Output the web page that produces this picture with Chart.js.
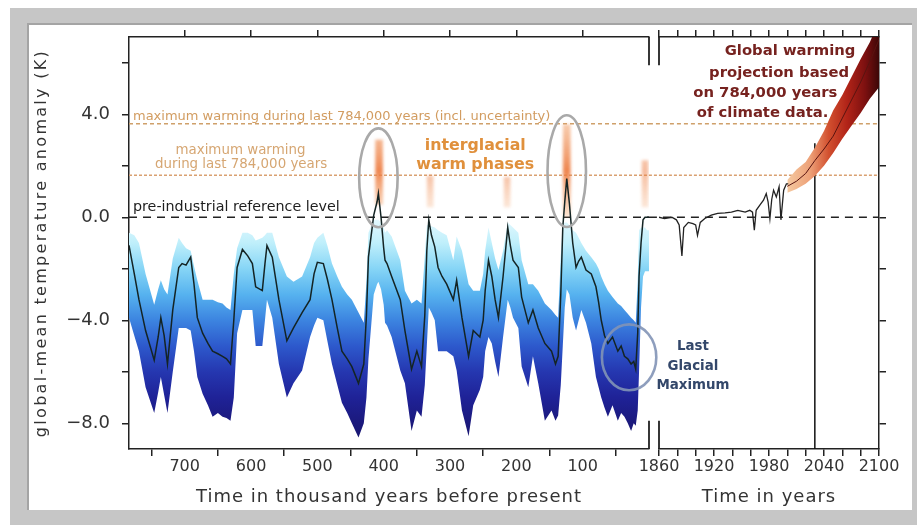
<!DOCTYPE html>
<html>
<head>
<meta charset="utf-8">
<script src="https://cdn.jsdelivr.net/npm/chart.js@4"></script>
<style>
  body { margin: 0; background: #fff; }
  #frame { position: absolute; left: 10px; top: 8px; width: 907px; height: 517px; background: #c6c6c6; }
  #panel { position: absolute; left: 27px; top: 23px; width: 885px; height: 487px; background: #fff; box-shadow: inset 2px 2px 0 #a4a4a4; }
  canvas { position: absolute; top: 23px; }
  #glacialCanvas { left: 27px; }
  #modernCanvas { left: 640px; }
</style>
</head>
<body>
<div id="frame"></div>
<div id="panel"></div>
<canvas id="glacialCanvas" width="640" height="487"></canvas>
<canvas id="modernCanvas" width="272" height="487"></canvas>
<script>
// reconstructed temperature, thousand years before present
const kyrBP = [
    784, 776, 769, 759, 746, 740, 736, 731, 726, 718, 709, 704, 698, 691,
    686, 681, 673, 665, 658, 650, 643, 637, 631, 626, 621, 613, 605, 598, 593,
    583, 579, 576, 568, 558, 546, 536, 523, 511, 505, 500, 491,
    485, 478, 470, 463, 455, 448, 438, 430, 426, 423, 415, 410, 408, 404, 400, 398, 395,
    388, 375, 368, 358, 350, 343, 338, 335, 332, 328, 323, 318, 312, 305, 295, 290,
    282, 272, 265, 255, 250, 247, 242, 237, 232, 227, 220, 213, 209, 205, 197,
    192, 182, 175, 167, 157, 147, 141, 137, 133, 130, 127, 124, 120, 115, 110, 106, 102,
    95, 87, 80, 76, 72, 67, 62, 55, 47, 42, 37, 32, 27, 23, 20, 17, 15, 12, 9, 6, 3, 0
];
const meanAnomaly = [
    -1.09, -2.2, -3.2, -4.4, -5.55, -4.65, -3.9, -4.6, -5.7, -3.6, -1.95, -1.8, -1.86, -1.55,
    -2.6, -3.9, -4.5, -4.9, -5.2, -5.3, -5.4, -5.5, -5.7, -4.0, -1.95, -1.25, -1.5, -1.8, -2.7,
    -2.85, -1.8, -1.1, -1.55, -3.2, -4.8, -4.3, -3.7, -3.2, -2.2, -1.75, -1.8,
    -2.4, -3.2, -4.3, -5.2, -5.5, -5.8, -6.45, -5.7, -3.8, -1.55, 0.08, 0.6, 0.93, 0.0, -1.2, -1.67, -1.8,
    -2.3, -3.2, -4.4, -5.9, -5.2, -5.8, -3.8, -1.3, -0.1, -0.7, -1.15, -1.95, -2.3, -2.6, -3.2, -2.45,
    -3.9, -5.4, -4.4, -4.65, -4.0, -2.85, -1.67, -2.3, -3.2, -3.9, -2.3, -0.4, -1.1, -1.67, -1.95,
    -3.1, -4.1, -3.6, -4.3, -4.9, -5.2, -5.7, -5.4, -3.0, -0.4, 0.6, 1.5, 0.54, -1.0, -1.95, -1.7, -1.55,
    -2.05, -2.2, -2.7, -3.3, -4.0, -4.6, -4.9, -4.65, -5.2, -5.0, -5.4, -5.5, -5.7, -5.6, -5.9, -4.5, -2.3, -1.0, -0.1, 0.0, 0.0, 0.0
];
const bandUpper = [
    -0.6, -0.7, -1.0, -2.2, -3.4, -2.8, -2.45, -2.8, -3.0, -1.6, -0.8, -1.0, -1.2, -1.3,
    -1.9, -2.45, -3.2, -3.2, -3.2, -3.3, -3.35, -3.5, -3.6, -2.2, -1.2, -0.6, -0.6, -0.7, -0.9,
    -0.8, -0.7, -0.6, -0.6, -1.55, -2.3, -2.5, -2.3, -1.55, -1.0, -0.8, -0.6,
    -1.1, -1.8, -2.3, -2.7, -3.0, -3.2, -3.7, -4.1, -2.5, -0.6, -0.1, -0.1, -0.1, -0.2, -0.4, -0.6, -0.5,
    -0.75, -1.67, -2.85, -3.35, -3.2, -3.35, -1.5, -0.3, -0.3, -0.35, -0.4, -0.5, -0.6, -0.7, -1.67, -0.75,
    -1.3, -2.6, -2.85, -2.85, -2.2, -1.3, -0.4, -1.0, -1.6, -2.05, -1.3, -0.2, -0.3, -0.4, -0.6,
    -1.67, -2.6, -2.6, -2.85, -3.35, -3.6, -3.8, -3.9, -1.5, -0.3, -0.2, -0.2, -0.3, -0.5, -0.6, -0.8, -1.0,
    -1.3, -1.55, -1.8, -2.0, -2.3, -2.6, -2.85, -3.1, -3.35, -3.45, -3.6, -3.75, -3.9, -4.0, -4.1, -2.5, -0.5, -0.4, -0.4, -0.4, -0.5, -0.5
];
const bandLower = [
    -3.9, -4.6, -5.2, -6.6, -7.6, -6.8, -6.2, -6.9, -7.6, -6.0, -4.3, -4.3, -4.3, -4.4,
    -5.2, -6.2, -6.85, -7.3, -7.75, -7.6, -7.75, -7.8, -7.9, -7.0, -4.5, -3.6, -3.6, -3.6, -5.0,
    -5.0, -4.0, -3.2, -3.9, -5.7, -7.0, -6.45, -5.95, -4.65, -4.2, -3.9, -4.0,
    -4.8, -5.7, -6.5, -7.2, -7.6, -8.0, -8.55, -8.0, -7.0, -5.5, -3.0, -2.6, -2.5, -2.8, -3.4, -4.1, -4.2,
    -4.65, -5.95, -6.45, -8.3, -7.5, -7.75, -6.5, -5.0, -3.5, -3.7, -4.0, -5.2, -5.2, -5.2, -5.4, -5.95,
    -7.5, -8.5, -7.3, -6.7, -6.2, -5.2, -4.65, -4.9, -5.6, -6.2, -4.65, -3.2, -3.5, -3.9, -4.3,
    -5.8, -6.6, -5.4, -6.45, -7.9, -7.5, -7.9, -7.7, -6.5, -5.0, -3.5, -2.8, -3.0, -3.9, -4.4, -4.0, -3.6,
    -4.1, -4.9, -6.2, -6.6, -7.0, -7.4, -7.75, -7.3, -7.9, -7.6, -7.75, -8.0, -8.3, -8.0, -8.1, -7.5, -6.0, -3.5, -2.3, -2.1, -2.1, -2.1
];

// interglacial warm peaks (upper range of the reconstruction)
const warmPeakKyr = [407, 124];
const warmPeakLow = [0.5, 0.0];
const warmPeakHigh = [3.0, 3.6];
const minorPeakKyr = [330, 214, 6];
const minorPeakLow = [0.4, 0.4, 0.4];
const minorPeakHigh = [1.6, 1.55, 2.2];

// reference levels (K)
const preIndustrial = 0.0;
const maxWarming = 1.63;
const maxWarmingUncert = 3.63;

// instrumental record
const histYears = [1860, 1866, 1874, 1879, 1882, 1885, 1887, 1892, 1897, 1900, 1902, 1905, 1910, 1917, 1924, 1932, 1939, 1946,
    1954, 1959, 1962, 1964, 1966, 1970, 1974, 1977, 1979, 1981, 1983, 1985, 1988, 1991, 1993, 1996, 1999, 2001];
const histAnomaly = [0.0, -0.05, 0.0, -0.1, -0.3, -1.5, -0.4, -0.2, -0.25, -0.3, -0.7, -0.2, -0.05, 0.08, 0.15, 0.17, 0.2, 0.27,
    0.2, 0.27, 0.2, -0.5, 0.27, 0.47, 0.66, 0.92, 0.6, -0.05, 0.7, 1.05, 0.79, 1.18, -0.1, 1.05, 1.3, 1.3];

// projection to 2100
const projYears = [2000, 2010, 2020, 2030, 2040, 2050, 2060, 2070, 2080, 2090, 2100];
const projMean = [1.2, 1.4, 1.7, 2.2, 2.65, 3.15, 3.85, 4.55, 5.25, 6.05, 6.9];
const projUpper = [1.45, 1.85, 2.15, 2.7, 3.35, 4.15, 4.75, 5.45, 6.15, 6.8, 7.6];
const projLower = [0.95, 1.1, 1.3, 1.6, 2.0, 2.5, 3.05, 3.55, 4.05, 4.6, 5.05];
const markYear = 2030;
const markTop = 2.87;

// tick values
const kyrTicks = [100, 200, 300, 400, 500, 600, 700];
const yearTicks = [1860, 1880, 1900, 1920, 1940, 1960, 1980, 2000, 2020, 2040, 2060, 2080, 2100];
const anomalyTicks = [-8, -6, -4, -2, 0, 2, 4, 6];

// colour ramps
const bandShades = [[0, '#e6f9fe'], [-1, '#bfeffb'], [-2, '#86d5f6'], [-3, '#56b2ef'], [-4, '#3c84e0'],
    [-5, '#2d59cc'], [-6, '#2537b0'], [-7, '#1f2297'], [-8, '#1b197c'], [-9, '#17156a']];
const plumeShades = [[2000, '#f5c9a0'], [2025, '#eda077'], [2045, '#d2502f'], [2065, '#b22418'], [2085, '#7c1010'], [2100, '#3c0707']];

function pts(xs, ys) {
    return xs.map((x, i) => ({ x: x, y: ys[i] }));
}

function setTicks(values) {
    return function (scale) {
        scale.ticks = values.map(v => ({ value: v }));
    };
}

function bandFill(context) {
    const chart = context.chart;
    if (!chart.chartArea) return '#86d5f6';
    const y = chart.scales.y;
    const y0 = y.getPixelForValue(0), y9 = y.getPixelForValue(-9);
    const g = chart.ctx.createLinearGradient(0, y0, 0, y9);
    bandShades.forEach(s => g.addColorStop(-s[0] / 9, s[1]));
    return g;
}

function plumeFill(context) {
    const chart = context.chart;
    if (!chart.chartArea) return '#d2502f';
    const x = chart.scales.x;
    const x0 = x.getPixelForValue(2000), x1 = x.getPixelForValue(2100);
    const g = chart.ctx.createLinearGradient(x0, 0, x1, 0);
    plumeShades.forEach(s => g.addColorStop((s[0] - 2000) / 100, s[1]));
    return g;
}

function peakFill(alpha) {
    return function (context) {
        const chart = context.chart;
        if (!chart.chartArea) return 'rgba(236,130,70,' + alpha + ')';
        const y = chart.scales.y;
        const g = chart.ctx.createLinearGradient(0, y.getPixelForValue(0), 0, y.getPixelForValue(3.6));
        g.addColorStop(0, 'rgba(245,175,120,' + alpha * 0.4 + ')');
        g.addColorStop(0.5, 'rgba(236,120,60,' + alpha + ')');
        g.addColorStop(1, 'rgba(242,160,105,' + alpha * 0.6 + ')');
        return g;
    };
}

// fixed box size, no extra room for overhanging labels
function fixSize(w, h) {
    return function (scale) {
        if (w !== null) scale.width = w;
        if (h !== null) scale.height = h;
        scale.paddingTop = 0;
        scale.paddingBottom = 0;
        scale.paddingLeft = 0;
        scale.paddingRight = 0;
    };
}

const axisGrid = { drawOnChartArea: false, drawTicks: true, tickLength: 7, color: '#222', lineWidth: 1.5 };
const axisBorder = { display: true, color: '#222', width: 1.5 };
const tickFont = { family: 'DejaVu Sans', size: 16 };

// annotations, frame breaks and axis titles
function makeDecor(cfg) {
    return {
        id: 'decor',
        beforeDatasetDraw(chart, args) {
            if (chart.data.datasets[args.index].soften) {
                chart.ctx.save();
                chart.ctx.filter = 'blur(1.4px)';
            }
        },
        afterDatasetDraw(chart, args) {
            if (chart.data.datasets[args.index].soften) chart.ctx.restore();
        },
        afterDraw(chart) {
            const ctx = chart.ctx, a = chart.chartArea;
            const xs = chart.scales.x, ys = chart.scales.y;
            ctx.save();

            // broken frame edge between the two panels
            const ex = cfg.breakEdge === 'right' ? a.right : a.left;
            ctx.strokeStyle = '#222';
            ctx.lineWidth = 1.8;
            ctx.beginPath();
            ctx.moveTo(ex, a.top);
            ctx.lineTo(ex, ys.getPixelForValue(cfg.breakTop));
            ctx.moveTo(ex, ys.getPixelForValue(cfg.breakBottom));
            ctx.lineTo(ex, a.bottom);
            ctx.stroke();

            (cfg.ellipses || []).forEach(e => {
                const cx = xs.getPixelForValue(e.x), cy = ys.getPixelForValue(e.y);
                const rx = Math.abs(xs.getPixelForValue(e.x + e.rx) - cx);
                const ry = Math.abs(ys.getPixelForValue(e.y + e.ry) - cy);
                ctx.strokeStyle = e.color;
                ctx.lineWidth = 2.6;
                ctx.beginPath();
                ctx.ellipse(cx, cy, rx, ry, 0, 0, Math.PI * 2);
                ctx.stroke();
            });

            ctx.textBaseline = 'alphabetic';
            cfg.notes.forEach(n => {
                ctx.font = n.font;
                ctx.fillStyle = n.color;
                ctx.textAlign = n.align;
                ctx.fillText(n.text, xs.getPixelForValue(n.x), ys.getPixelForValue(n.y));
            });

            ctx.fillStyle = '#333';
            ctx.textAlign = 'center';
            ctx.textBaseline = 'middle';
            ctx.font = '18px "DejaVu Sans"';
            ctx.letterSpacing = '1px';
            ctx.fillText(cfg.xTitle, (a.left + a.right) / 2, a.bottom + 48);
            if (cfg.yTitle) {
                ctx.font = '16px "DejaVu Sans"';
                ctx.letterSpacing = '2.3px';
                ctx.translate(15, (a.top + a.bottom) / 2);
                ctx.rotate(-Math.PI / 2);
                ctx.fillText(cfg.yTitle, 0, 0);
            }
            ctx.restore();
        }
    };
}

const tan = '#d29c60';
const glacialNotes = [
    { text: 'maximum warming during last 784,000 years (incl. uncertainty)', x: 778, y: 3.77, align: 'left', font: '13px "DejaVu Sans"', color: tan },
    { text: 'maximum warming', x: 616, y: 2.45, align: 'center', font: '13.4px "DejaVu Sans"', color: '#d6a672' },
    { text: 'during last 784,000 years', x: 615, y: 1.9, align: 'center', font: '13.4px "DejaVu Sans"', color: '#d6a672' },
    { text: 'pre-industrial reference level', x: 778, y: 0.23, align: 'left', font: '14.3px "DejaVu Sans"', color: '#1e1e1e' },
    { text: 'interglacial', x: 262, y: 2.6, align: 'center', font: 'bold 15.8px "DejaVu Sans"', color: '#e0903c' },
    { text: 'warm phases', x: 262, y: 1.86, align: 'center', font: 'bold 15.8px "DejaVu Sans"', color: '#e0903c' }
];
const glacialRings = [
    { x: 408, y: 1.53, rx: 29, ry: 1.92, color: '#a9a9a9' },
    { x: 124, y: 1.79, rx: 29, ry: 2.17, color: '#a9a9a9' },
    { x: 30, y: -5.44, rx: 41, ry: 1.28, color: 'rgba(130,148,182,0.9)' }
];
const modernNotes = [
    { text: 'Last', x: 1897, y: -5.17, align: 'center', font: 'bold 13.4px "DejaVu Sans"', color: '#33476a' },
    { text: 'Glacial', x: 1897, y: -5.94, align: 'center', font: 'bold 13.4px "DejaVu Sans"', color: '#33476a' },
    { text: 'Maximum', x: 1897, y: -6.68, align: 'center', font: 'bold 13.4px "DejaVu Sans"', color: '#33476a' },
    { text: 'Global warming', x: 2003, y: 6.29, align: 'center', font: 'bold 14.8px "DejaVu Sans"', color: '#76221f' },
    { text: 'projection based', x: 1991, y: 5.44, align: 'center', font: 'bold 14.8px "DejaVu Sans"', color: '#76221f' },
    { text: 'on 784,000 years', x: 1976, y: 4.66, align: 'center', font: 'bold 14.8px "DejaVu Sans"', color: '#76221f' },
    { text: 'of climate data.', x: 1973, y: 3.88, align: 'center', font: 'bold 14.8px "DejaVu Sans"', color: '#76221f' }
];

function refLine(x0, x1, y, dash, color, width, clipLeft) {
    return {
        data: [{ x: x0, y: y }, { x: x1, y: y }],
        borderColor: color, borderWidth: width, borderDash: dash,
        pointRadius: 0, fill: false,
        clip: { left: clipLeft, top: 0, right: 0, bottom: 0 }
    };
}

function yTickLabel(value) {
    if (value % 4 !== 0) return '';
    return (value < 0 ? '\u2212' : '') + Math.abs(value).toFixed(1);
}

const glacialChart = new Chart(document.getElementById('glacialCanvas'), {
    type: 'line',
    data: {
        datasets: [
            { data: pts(kyrBP, meanAnomaly), borderColor: '#142424', borderWidth: 1.5, pointRadius: 0, tension: 0, fill: false },
            { type: 'bar', data: warmPeakKyr.map((k, i) => ({ x: k, y: [warmPeakLow[i], warmPeakHigh[i]] })),
              barThickness: 7, grouped: false, backgroundColor: peakFill(0.9), soften: true },
            { type: 'bar', data: minorPeakKyr.map((k, i) => ({ x: k, y: [minorPeakLow[i], minorPeakHigh[i]] })),
              barThickness: 6, grouped: false, backgroundColor: peakFill(0.5), soften: true },
            refLine(784, 0, preIndustrial, [8, 6], '#222', 1.6, 0),
            refLine(784, 0, maxWarming, [3, 2], '#d9a070', 1.4, 0),
            refLine(784, 0, maxWarmingUncert, [4, 3], '#cfa06a', 1.6, 0),
            { data: pts(kyrBP, bandUpper), borderWidth: 0, pointRadius: 0, fill: '+1', backgroundColor: bandFill },
            { data: pts(kyrBP, bandLower), borderWidth: 0, pointRadius: 0, fill: false }
        ]
    },
    options: {
        responsive: false, animation: false, devicePixelRatio: 1, events: [],
        layout: { autoPadding: false, padding: { left: 0, right: 18, top: 0, bottom: 0 } },
        plugins: { legend: { display: false }, tooltip: { enabled: false } },
        scales: {
            x: {
                type: 'linear', position: 'bottom', min: 0, max: 784, reverse: true, offset: false,
                ticks: { autoSkip: false, maxRotation: 0, padding: 1, color: '#333', font: tickFont },
                afterBuildTicks: setTicks(kyrTicks),
                afterFit: fixSize(null, 61),
                grid: axisGrid, border: axisBorder
            },
            xTop: {
                type: 'linear', position: 'top', min: 0, max: 784, reverse: true, offset: false,
                ticks: { display: false, autoSkip: false },
                afterBuildTicks: setTicks(kyrTicks),
                afterFit: fixSize(null, 14),
                grid: axisGrid, border: axisBorder
            },
            y: {
                type: 'linear', position: 'left', min: -9, max: 7,
                ticks: { autoSkip: false, padding: 12, color: '#333', font: { family: 'DejaVu Sans', size: 18 }, callback: yTickLabel },
                afterBuildTicks: setTicks(anomalyTicks),
                afterFit: fixSize(102, null),
                grid: axisGrid, border: axisBorder
            }
        }
    },
    plugins: [makeDecor({
        breakEdge: 'right', breakTop: 5.9, breakBottom: -7.9,
        notes: glacialNotes, ellipses: glacialRings,
        xTitle: 'Time in thousand years before present',
        yTitle: 'global-mean temperature anomaly (K)'
    })]
});

const modernChart = new Chart(document.getElementById('modernCanvas'), {
    type: 'line',
    data: {
        datasets: [
            { data: pts(histYears, histAnomaly), borderColor: '#222', borderWidth: 1.3, pointRadius: 0, tension: 0, fill: false },
            { data: pts(projYears, projMean), borderColor: '#5a1410', borderWidth: 1, pointRadius: 0, tension: 0, fill: false },
            { data: pts(projYears, projUpper), borderWidth: 0, pointRadius: 0, fill: '+1', backgroundColor: plumeFill },
            { data: pts(projYears, projLower), borderWidth: 0, pointRadius: 0, fill: false },
            { data: [{ x: markYear, y: -9 }, { x: markYear, y: markTop }], borderColor: '#111', borderWidth: 1.5, pointRadius: 0, fill: false },
            refLine(1849, 2100, preIndustrial, [8, 6], '#222', 1.6, 12),
            refLine(1849, 2100, maxWarming, [3, 2], '#d9a070', 1.4, 12),
            refLine(1849, 2100, maxWarmingUncert, [4, 3], '#cfa06a', 1.6, 12)
        ]
    },
    options: {
        responsive: false, animation: false, devicePixelRatio: 1, events: [],
        layout: { autoPadding: false, padding: { left: 19, right: 25, top: 0, bottom: 0 } },
        plugins: { legend: { display: false }, tooltip: { enabled: false } },
        scales: {
            x: {
                type: 'linear', position: 'bottom', min: 1860, max: 2100, offset: false,
                ticks: { autoSkip: false, maxRotation: 0, padding: 1, color: '#333', font: tickFont,
                         callback: v => (v % 60 === 0 ? String(v) : '') },
                afterBuildTicks: setTicks(yearTicks),
                afterFit: fixSize(null, 61),
                grid: axisGrid, border: axisBorder
            },
            xTop: {
                type: 'linear', position: 'top', min: 1860, max: 2100, offset: false,
                ticks: { display: false, autoSkip: false },
                afterBuildTicks: setTicks(yearTicks),
                afterFit: fixSize(null, 14),
                grid: axisGrid, border: axisBorder
            },
            y: {
                type: 'linear', position: 'right', min: -9, max: 7,
                ticks: { display: false, autoSkip: false },
                afterBuildTicks: setTicks(anomalyTicks),
                afterFit: fixSize(8, null),
                grid: axisGrid, border: axisBorder
            }
        }
    },
    plugins: [makeDecor({
        breakEdge: 'left', breakTop: 5.9, breakBottom: -7.9,
        notes: modernNotes,
        xTitle: 'Time in years'
    })]
});
</script>
</body>
</html>
